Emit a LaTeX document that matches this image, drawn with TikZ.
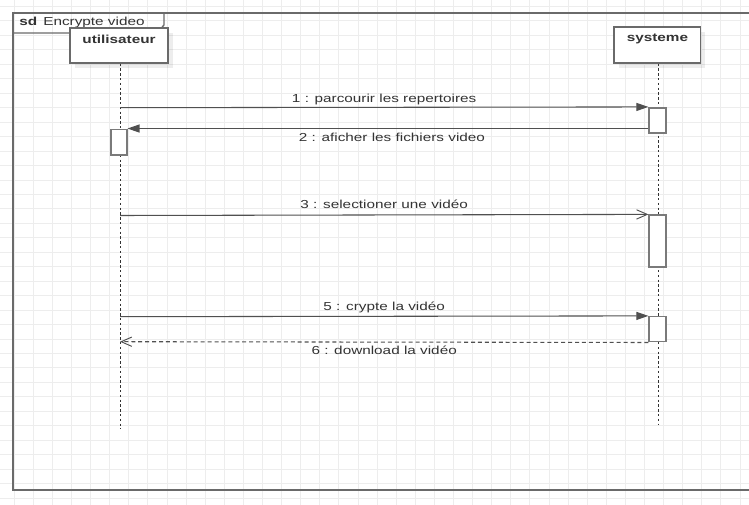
\documentclass[tikz,border=0pt]{standalone}
\usepackage{fontspec}
\setmainfont{Liberation Sans}[FakeStretch=1.32]
\usetikzlibrary{arrows.meta,shadows}
\definecolor{gridc}{HTML}{EDEDED}
\definecolor{framec}{HTML}{6A6A6A}
\definecolor{linec}{HTML}{505050}
\definecolor{txtc}{HTML}{333333}
\definecolor{actc}{HTML}{7A7A7A}

\begin{document}
\begin{tikzpicture}[x=0.75pt,y=-0.75pt,
  font=\fontsize{8.7}{10}\selectfont,
  gridline/.style={draw=gridc, line width=0.75pt},
  framebox/.style={draw=framec, line width=1.3pt},
  partbox/.style={draw=framec, line width=1pt, fill=white, inner sep=0pt,
    drop shadow={shadow xshift=3.5pt, shadow yshift=-3.5pt, fill=black, opacity=0.07}},
  ptitle/.style={inner sep=0pt, text=txtc, font=\fontsize{8.7}{10}\selectfont\bfseries},
  actbox/.style={draw=actc, line width=1.2pt, fill=white, inner sep=0pt, minimum width=12.5pt},
  lifeline/.style={draw=txtc, line width=0.75pt, dash pattern=on 1.8pt off 1.8pt},
  msg/.style={draw=linec, line width=0.8pt},
  filledtip/.style={-{Triangle[length=9pt,width=6pt]}},
  opentip/.style={-{Straight Barb[length=8pt,width=7pt,line width=0.7pt]}},
  reply/.style={msg, dash pattern=on 3pt off 2.2pt},
  lbl/.style={inner sep=0pt, text=txtc, text height=0.72em, text depth=0.2em, midway}
]
\useasboundingbox (0,0) rectangle (749,505);
\clip (0,0) rectangle (749,505);
\fill[white] (0,0) rectangle (749,505);

% background grid
\foreach \i in {0,...,39}
  \draw[gridline] ({14.2+19.1*\i},0) -- ({14.2+19.1*\i},505);
\foreach \j in {0,...,34}
  \draw[gridline] (0,{6.5+14.46*\j}) -- (749,{6.5+14.46*\j});

% sequence frame and its name tab
\draw[framebox] (13,13) rectangle (780,490);
\draw[framebox, line width=1pt] (13,33) -- (157,33) -- (164,25) -- (164,13);
\node[anchor=west, inner sep=0pt, text=txtc] (title) at (19,23) {\textbf{sd}\, Encrypte video};

% participants
\node[partbox, minimum width=73.5pt, minimum height=26.25pt] (ubox) at (119,45.5) {};
\node[ptitle] (utxt) at (119,39) {utilisateur};
\node[partbox, minimum width=65pt, minimum height=27pt] (sbox) at (657.4,45) {};
\node[ptitle] (stxt) at (657.4,39) {systeme};

% lifelines
\coordinate (uend) at (120,429);
\coordinate (send) at (658.7,425);
\draw[lifeline] (ubox.south -| uend) -- (uend);
\draw[lifeline] (sbox.south -| send) -- (send);

% activation bars
\node[actbox, minimum height=19pt] (a1) at (657.5,120.4) {};
\node[actbox, minimum width=12pt, minimum height=19.3pt] (a2) at (118.7,142.2) {};
\node[actbox, minimum height=39pt] (a3) at (657.5,241.2) {};
\node[actbox, minimum height=18.75pt] (a4) at (657.5,329.2) {};

% messages
\coordinate (u1) at (120,107.7);
\coordinate (u3) at (120,215.5);
\coordinate (u5) at (120,316.7);
\coordinate (u6) at (120,341.7);

\draw[msg, filledtip] (u1) -- node[lbl, yshift=6.5pt] (l1) {1 : parcourir les repertoires} (a1.north west);
\draw[msg, filledtip] (a2.north east -| a1.west) -- node[lbl, yshift=-6.9pt, xshift=3pt] (l2) {2 : aficher les fichiers video} (a2.north east);
\draw[msg, opentip] (u3) -- node[lbl, yshift=7.1pt] (l3) {3 : selectioner une vidéo} (a3.north west);
\draw[msg, filledtip] (u5) -- node[lbl, yshift=7.2pt] (l5) {5 : crypte la vidéo} (a4.north west);
\draw[reply, opentip] (a4.south west) -- node[lbl, yshift=-7pt] (l6) {6 : download la vidéo} (u6);
\end{tikzpicture}
\end{document}
